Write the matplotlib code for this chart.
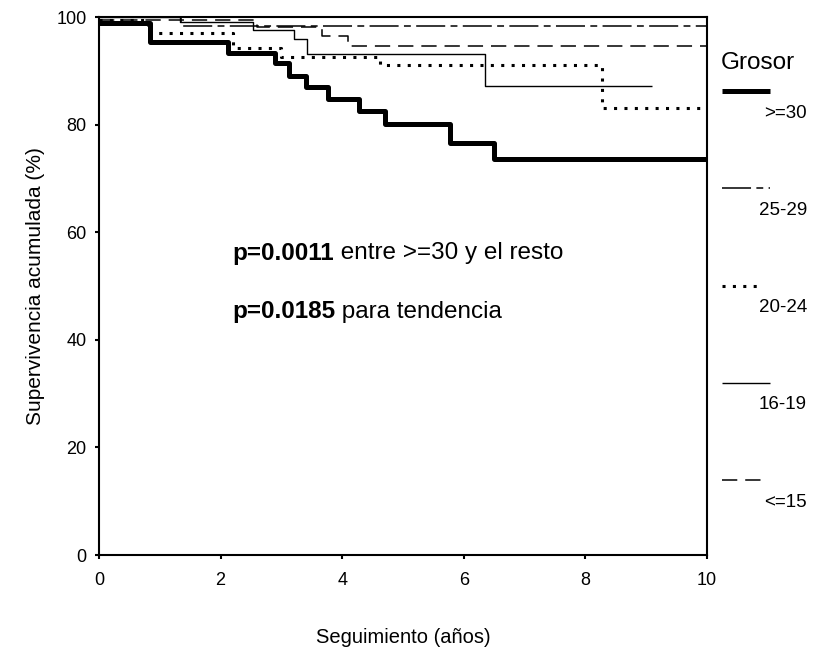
#!/usr/bin/env python3
"""
Kaplan-Meier style survival curves by thickness group (Grosor).
"""

import matplotlib
matplotlib.use("Agg")
import matplotlib.pyplot as plt
from matplotlib.lines import Line2D

plt.rcParams["font.family"] = ["Liberation Sans", "DejaVu Sans"]

# Step curves: times (years) and cumulative survival (%)
t_ge30 = [0, 0.84, 2.12, 2.9, 3.12, 3.4, 3.77, 4.28, 4.70, 5.77, 6.5, 10]
s_ge30 = [98.8, 95.4, 93.3, 91.4, 89.0, 87.0, 84.8, 82.5, 80.1, 76.6, 73.6, 73.6]

t_25_29 = [0, 1.35, 10]
s_25_29 = [100, 98.3, 98.3]

t_20_24 = [0, 0.8, 2.2, 3.0, 4.62, 8.27, 10]
s_20_24 = [99.5, 97.0, 94.2, 92.5, 91.0, 83.0, 83.0]

t_16_19 = [0, 1.33, 2.53, 3.2, 3.42, 6.35, 9.1]
s_16_19 = [100, 99.0, 97.6, 95.9, 93.2, 87.2, 87.2]

t_le15 = [0, 2.6, 3.67, 4.1, 10]
s_le15 = [99.4, 98.2, 96.5, 94.6, 94.6]

group_labels = [">=30", "25-29", "20-24", "16-19", "<=15"]
x_ticks = [0, 2, 4, 6, 8, 10]
y_ticks = [0, 20, 40, 60, 80, 100]

# line styles per group (same order as group_labels)
styles = [
    dict(color="black", lw=3.6, linestyle="-"),
    dict(color="black", lw=1.1, linestyle=(0, (19, 3.5, 4.5, 3.5))),
    dict(color="black", lw=2.2, linestyle=(0, (1, 2.4))),
    dict(color="black", lw=1.0, linestyle="-"),
    dict(color="black", lw=1.1, linestyle=(0, (10, 5.2))),
]

fig = plt.figure(figsize=(8.14, 6.52), dpi=100)
ax = fig.add_axes([99 / 814, 97 / 652, 608 / 814, 538 / 652])

series = [(t_ge30, s_ge30), (t_25_29, s_25_29), (t_20_24, s_20_24),
          (t_16_19, s_16_19), (t_le15, s_le15)]
for (t, s), st in zip(series, styles):
    ax.plot(t, s, drawstyle="steps-post", solid_capstyle="butt", **st)

ax.set_xlim(0, 10)
ax.set_ylim(0, 100)
ax.set_xticks(x_ticks)
ax.set_yticks(y_ticks)
ax.tick_params(direction="out", length=3, width=1.5, labelsize=13, pad=6)
ax.tick_params(axis="x", pad=9)
for sp in ax.spines.values():
    sp.set_linewidth(1.5)

ax.set_ylabel("Supervivencia acumulada (%)", fontsize=15, labelpad=8)
ax.set_xlabel("Seguimiento (años)", fontsize=14.5, labelpad=28)

# p-value annotations: bold value followed by normal text
fs_p = 17.5
t1 = ax.text(2.19, 56.1, "p=0.0011", fontsize=fs_p, fontweight="bold", va="center")
ax.annotate(" entre >=30 y el resto", xy=(1, 0.5), xycoords=t1,
            fontsize=fs_p, va="center")
t2 = ax.text(2.19, 45.2, "p=0.0185", fontsize=fs_p, fontweight="bold", va="center")
ax.annotate(" para tendencia", xy=(1, 0.5), xycoords=t2,
            fontsize=fs_p, va="center")

# Custom legend on the right, in figure pixel coordinates
leg = fig.add_axes([0, 0, 1, 1])
leg.set_xlim(0, 814)
leg.set_ylim(652, 0)
leg.axis("off")
leg.text(721, 63, "Grosor", fontsize=17.5, va="center", ha="left")
for i, (lab, st) in enumerate(zip(group_labels, styles)):
    y_line = 91 + i * 97.3
    x_end = 763 if i in (2, 4) else 770
    leg.add_line(Line2D([722, x_end], [y_line, y_line], solid_capstyle="butt", **st))
    leg.text(807, y_line + 22, lab, fontsize=13.5, va="center", ha="right")

fig.savefig("out.png", dpi=100, facecolor="white")
plt.close(fig)
